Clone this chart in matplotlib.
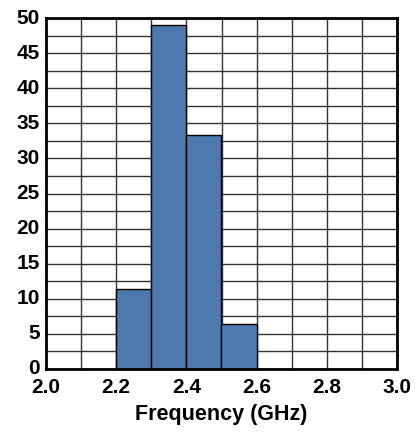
import numpy as np
import matplotlib
matplotlib.use('Agg')
import matplotlib.pyplot as plt
import matplotlib.transforms as mtransforms

plt.rcParams['font.family'] = ['Liberation Sans', 'DejaVu Sans']
plt.rcParams['font.weight'] = 'bold'

# Histogram of frequencies (percent per 0.1 GHz bin)
bin_left = [2.2, 2.3, 2.4, 2.5]
bin_width = 0.1
percent = [11.4, 49.0, 33.4, 6.4]

x_ticks = [2.0, 2.2, 2.4, 2.6, 2.8, 3.0]
y_ticks = [0, 5, 10, 15, 20, 25, 30, 35, 40, 45, 50]

fig = plt.figure(figsize=(4.15, 4.35), dpi=100)
ax = fig.add_axes([46 / 415, 1 - 370 / 435, (397 - 46) / 415, (370 - 19) / 435])

ax.bar(bin_left, percent, width=bin_width, align='edge',
       color='#4E79AE', edgecolor='black', linewidth=1.0, zorder=3)

ax.set_xlim(2.0, 3.0)
ax.set_ylim(0, 50)
ax.set_xticks(x_ticks)
ax.set_xticklabels([f'{v:.1f}' for v in x_ticks])
ax.set_yticks(y_ticks)
ax.set_xticks(np.arange(2.0, 3.0001, 0.1), minor=True)
ax.set_yticks(np.arange(0, 50.001, 2.5), minor=True)
ax.grid(which='both', color='#333333', linewidth=1.0, zorder=0)
ax.set_axisbelow(True)
ax.tick_params(which='both', length=0)
ax.tick_params(axis='x', labelsize=15, pad=6)
ax.tick_params(axis='y', labelsize=15, pad=4.5)

# y labels sit a little above their gridlines in the original
shift = mtransforms.ScaledTranslation(0, 3 / 100, fig.dpi_scale_trans)
for lbl in ax.get_yticklabels():
    lbl.set_transform(lbl.get_transform() + shift)

for s in ax.spines.values():
    s.set_linewidth(2)
    s.set_zorder(5)

ax.set_xlabel('Frequency (GHz)', fontsize=15.5, fontweight='bold', labelpad=5)

fig.savefig('out.png', dpi=100)
